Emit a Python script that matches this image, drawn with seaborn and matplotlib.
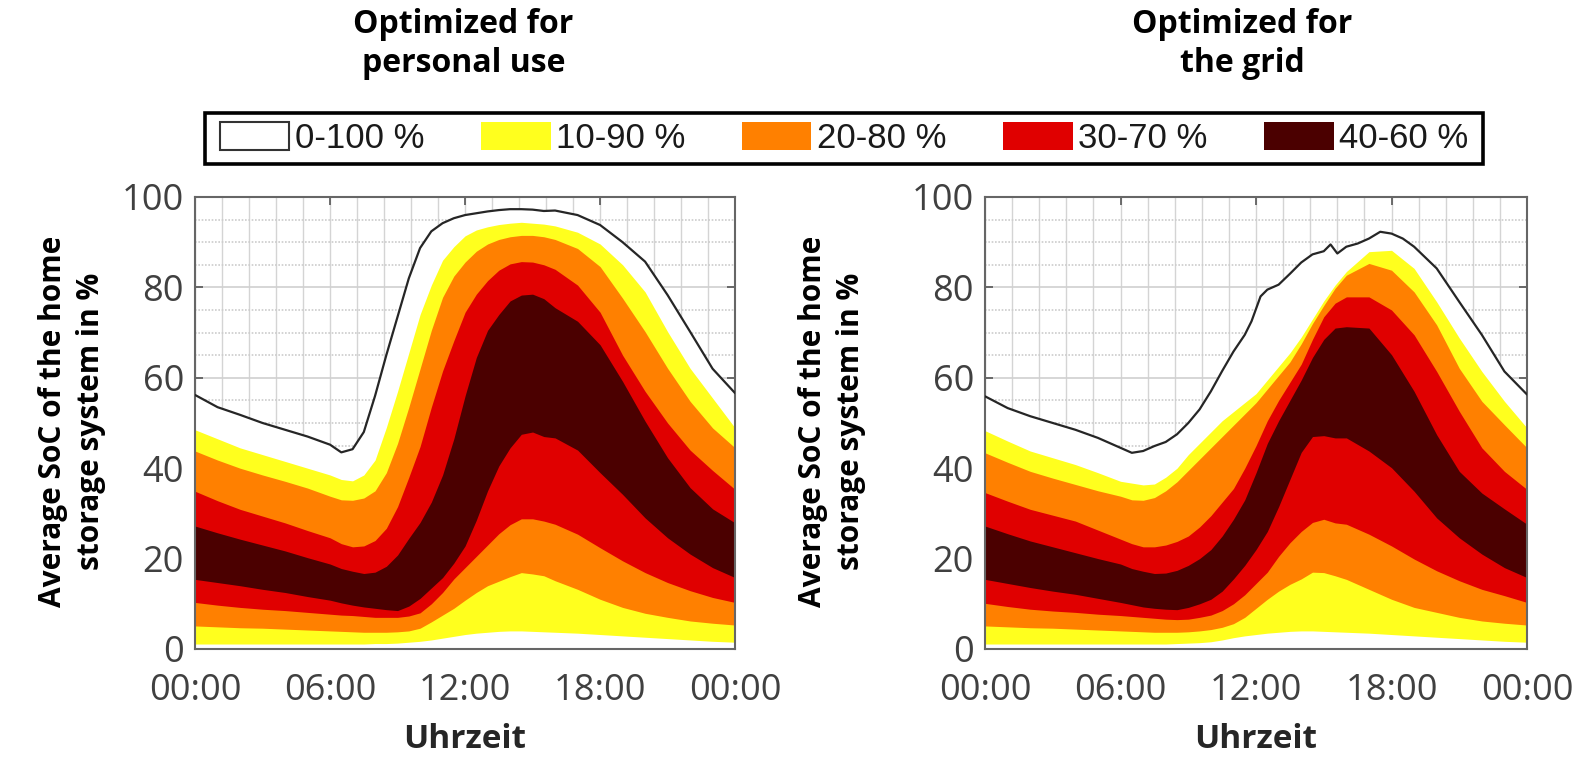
import matplotlib
matplotlib.use("Agg")
import matplotlib.pyplot as plt
import seaborn as sns
from matplotlib.patches import Patch, Rectangle
from matplotlib.ticker import MultipleLocator

sns.set_theme(style="white")
plt.rcParams["font.family"] = ["Open Sans", "DejaVu Sans"]

# time of day in hours, shared by the percentile bands
HOURS = [0, 1, 2, 3, 4, 5, 6, 6.5, 7, 7.5, 8, 8.5, 9, 9.5, 10, 10.5, 11, 11.5,
         12, 12.5, 13, 13.5, 14, 14.5, 15, 15.5, 16, 17, 18, 19, 20, 21, 22, 23, 24]

# --- optimized for personal use ---
own_max_hours = HOURS
own_p100 = [56.2, 53.5, 51.8, 50.0, 48.5, 47.0, 45.2, 43.5, 44.2, 48.0, 56.0, 65.0, 73.5, 82.0, 88.7, 92.4, 94.2, 95.3,
            96.0, 96.4, 96.8, 97.1, 97.3, 97.3, 97.2, 96.9, 97.0, 96.0, 93.8, 90.0, 85.7, 78.3, 70.2, 62.0, 56.6]
own_p90 = [48.5, 46.5, 44.5, 43.0, 41.5, 40.0, 38.5, 37.5, 37.2, 38.5, 41.8, 49.0, 57.0, 65.5, 74.0, 80.5, 86.0, 89.0,
           91.4, 92.7, 93.4, 93.9, 94.2, 94.4, 94.2, 94.0, 93.6, 92.2, 89.6, 85.0, 79.0, 70.2, 62.1, 55.5, 48.9]
own_p80 = [43.8, 41.8, 40.0, 38.5, 37.1, 35.6, 33.8, 33.0, 32.9, 33.4, 35.0, 39.0, 45.5, 53.5, 62.0, 70.5, 77.8, 82.5,
           85.6, 88.0, 89.6, 90.6, 91.2, 91.5, 91.5, 91.2, 90.6, 88.6, 84.6, 77.6, 70.2, 62.1, 54.8, 48.9, 44.5]
own_p70 = [34.9, 32.8, 30.9, 29.4, 27.9, 26.2, 24.6, 23.3, 22.6, 22.8, 24.0, 26.7, 31.5, 38.0, 44.8, 53.5, 61.5, 68.2,
           74.5, 78.5, 81.5, 83.8, 85.2, 85.7, 85.6, 85.0, 84.0, 80.5, 74.5, 65.0, 57.0, 50.0, 44.0, 39.5, 35.3]
own_p60 = [27.2, 25.7, 24.3, 23.0, 21.7, 20.2, 18.8, 17.8, 17.2, 16.7, 17.0, 18.3, 20.8, 24.5, 28.0, 32.5, 38.5, 46.5,
           56.0, 64.5, 70.5, 74.0, 77.0, 78.3, 78.5, 77.5, 75.5, 72.5, 67.3, 59.2, 50.4, 42.3, 35.7, 31.0, 27.9]
own_p40 = [15.4, 14.7, 14.0, 13.2, 12.5, 11.6, 10.8, 10.2, 9.7, 9.3, 9.0, 8.7, 8.5, 9.5, 11.2, 13.5, 15.8, 19.0,
           22.8, 28.5, 35.0, 40.5, 44.5, 47.5, 48.0, 47.0, 46.7, 44.0, 39.0, 34.2, 29.0, 24.6, 21.0, 18.0, 15.8]
own_p30 = [10.3, 9.7, 9.2, 8.8, 8.5, 8.1, 7.7, 7.5, 7.4, 7.2, 7.0, 7.0, 7.0, 7.3, 8.0, 10.0, 12.5, 15.5,
           18.0, 20.5, 23.0, 25.5, 27.5, 28.8, 28.8, 28.3, 27.6, 25.4, 22.4, 19.5, 16.9, 14.7, 12.9, 11.4, 10.3]
own_p20 = [5.1, 4.9, 4.7, 4.6, 4.4, 4.2, 4.0, 3.9, 3.8, 3.7, 3.7, 3.7, 3.8, 4.0, 4.6, 6.0, 7.5, 9.0,
           10.8, 12.5, 14.0, 15.0, 16.0, 16.9, 16.6, 16.2, 15.1, 13.2, 11.0, 9.2, 7.9, 7.0, 6.2, 5.7, 5.3]
own_p10 = [1.1, 1.1, 1.1, 1.1, 1.1, 1.1, 1.1, 1.1, 1.1, 1.1, 1.2, 1.2, 1.3, 1.5, 1.7, 2.0, 2.4, 2.8,
           3.2, 3.5, 3.7, 3.9, 4.0, 4.0, 3.9, 3.8, 3.7, 3.5, 3.2, 2.9, 2.6, 2.3, 2.0, 1.7, 1.5]

# --- optimized for the grid ---
grid_max_hours = [0, 1, 2, 3, 4, 5, 6, 6.5, 7, 7.5, 8, 8.5, 9, 9.5, 10, 10.5, 11, 11.5, 11.8, 12.2,
                  12.5, 13, 13.5, 14, 14.5, 15, 15.3, 15.6, 16, 16.5, 17, 17.5, 18, 18.5, 19, 20, 21, 22, 23, 24]
grid_p100 = [55.9, 53.3, 51.5, 50.0, 48.5, 46.7, 44.5, 43.4, 43.8, 44.9, 45.8, 47.5, 50.0, 53.0, 57.0, 61.5, 65.8, 69.5, 72.5, 78.0,
             79.5, 80.6, 83.0, 85.5, 87.3, 88.0, 89.5, 87.5, 89.0, 89.7, 90.8, 92.3, 91.9, 90.8, 89.0, 84.2, 76.8, 69.5, 61.4, 56.3]
grid_p90 = [48.3, 46.0, 43.8, 42.3, 40.8, 39.0, 37.1, 36.7, 36.3, 36.5, 38.0, 40.0, 43.0, 45.5, 48.0, 50.5, 52.5, 54.5,
            56.5, 59.5, 62.5, 65.5, 69.0, 73.0, 77.0, 80.5, 83.5, 87.9, 88.2, 84.2, 76.8, 68.8, 61.4, 54.8, 48.9]
grid_p80 = [43.4, 41.3, 39.3, 37.8, 36.4, 35.0, 33.8, 33.0, 32.9, 33.5, 35.0, 37.0, 39.5, 42.0, 44.5, 47.0, 49.5, 52.0,
            54.5, 57.5, 60.5, 63.5, 67.5, 72.0, 76.0, 79.8, 82.7, 85.3, 83.8, 79.0, 71.7, 62.1, 54.8, 49.6, 44.5]
grid_p70 = [34.6, 32.7, 30.9, 29.6, 28.3, 26.3, 24.3, 23.3, 22.6, 22.6, 23.0, 23.8, 25.0, 27.0, 29.5, 32.5, 35.5, 40.0,
            45.0, 50.5, 55.0, 59.0, 63.0, 68.5, 73.5, 76.5, 77.9, 77.9, 75.0, 69.5, 61.4, 52.6, 44.5, 39.3, 35.3]
grid_p60 = [27.2, 25.5, 23.9, 22.6, 21.3, 20.0, 18.8, 17.8, 17.2, 16.7, 16.8, 17.4, 18.5, 20.0, 22.0, 25.0, 28.7, 33.0,
            39.0, 45.5, 50.5, 55.0, 59.5, 64.5, 68.5, 71.0, 71.3, 71.0, 65.1, 57.0, 47.4, 39.3, 34.5, 31.0, 27.6]
grid_p40 = [15.4, 14.5, 13.6, 12.8, 12.1, 11.2, 10.3, 9.8, 9.3, 9.0, 8.8, 8.7, 9.2, 10.0, 11.0, 12.8, 15.5, 18.5,
            22.0, 26.0, 31.5, 37.5, 43.5, 47.0, 47.2, 46.7, 46.7, 43.8, 40.1, 34.9, 29.0, 24.6, 21.0, 18.0, 15.8]
grid_p30 = [10.1, 9.4, 8.8, 8.4, 8.1, 7.7, 7.4, 7.2, 7.0, 6.8, 6.6, 6.5, 6.6, 7.0, 7.5, 8.5, 10.0, 12.0,
            14.5, 17.0, 20.5, 23.5, 26.0, 28.0, 28.7, 27.9, 27.6, 25.4, 22.8, 19.9, 17.3, 15.1, 13.2, 11.8, 10.3]
grid_p20 = [5.1, 4.9, 4.7, 4.6, 4.4, 4.2, 4.0, 3.9, 3.8, 3.7, 3.7, 3.7, 3.8, 4.0, 4.3, 4.8, 5.6, 7.0,
            9.0, 11.0, 12.8, 14.3, 15.5, 17.0, 16.9, 16.2, 15.4, 13.2, 11.0, 9.2, 8.1, 7.0, 6.2, 5.7, 5.3]
grid_p10 = [1.1, 1.1, 1.1, 1.1, 1.1, 1.1, 1.1, 1.1, 1.1, 1.1, 1.1, 1.2, 1.3, 1.4, 1.6, 2.0, 2.5, 2.9,
            3.2, 3.5, 3.7, 3.9, 4.0, 4.0, 3.9, 3.8, 3.7, 3.5, 3.2, 2.9, 2.6, 2.3, 2.0, 1.7, 1.5]

PANEL_TITLES = ["Optimized for\npersonal use", "Optimized for\nthe grid"]
BAND_LABELS = ["0-100 %", "10-90 %", "20-80 %", "30-70 %", "40-60 %"]
BAND_COLORS = ["#ffffff", "#ffff1e", "#ff8000", "#e00000", "#4b0000"]
X_TICKS = [0, 6, 12, 18, 24]
X_TICK_LABELS = ["00:00", "06:00", "12:00", "18:00", "00:00"]
Y_TICKS = [0, 20, 40, 60, 80, 100]
Y_LABEL = "Average SoC of the home\nstorage system in %"

panels = [
    (own_max_hours, own_p100, [(own_p10, own_p90), (own_p20, own_p80), (own_p30, own_p70), (own_p40, own_p60)]),
    (grid_max_hours, grid_p100, [(grid_p10, grid_p90), (grid_p20, grid_p80), (grid_p30, grid_p70), (grid_p40, grid_p60)]),
]

W, H = 1587, 762
fig = plt.figure(figsize=(W / 100, H / 100), dpi=100)
ax_pos = [[0.1229, 0.1483, 0.3403, 0.5932], [0.6207, 0.1483, 0.3415, 0.5932]]
title_x = [0.292, 0.783]
ylabel_x = [0.0455, 0.5245]

for i, (max_hours, p100, bands) in enumerate(panels):
    ax = fig.add_axes(ax_pos[i])
    ax.set_axisbelow(True)
    ax.fill_between(max_hours, 0, p100, color=BAND_COLORS[0], lw=0, zorder=1)
    for (lo, hi), color in zip(bands, BAND_COLORS[1:]):
        ax.fill_between(HOURS, lo, hi, color=color, lw=0, zorder=2)
    sns.lineplot(x=max_hours, y=p100, ax=ax, color="#262626", lw=1.6, zorder=3)

    ax.set_xlim(0, 24)
    ax.set_ylim(0, 100)
    ax.set_xticks(X_TICKS)
    ax.set_xticklabels(X_TICK_LABELS)
    ax.set_yticks(Y_TICKS)
    ax.xaxis.set_minor_locator(MultipleLocator(1.2))
    ax.yaxis.set_minor_locator(MultipleLocator(5))
    ax.xaxis.grid(True, which="both", color="#d4d4d4", lw=1.0)
    ax.yaxis.grid(True, which="major", color="#d0d0d0", lw=1.2)
    ax.yaxis.grid(True, which="minor", color="#cccccc", lw=1.2, linestyle=(0, (1, 1)))
    ax.tick_params(which="major", direction="in", length=6, width=1.2, color="#555555",
                   top=True, right=True, bottom=True, left=True,
                   labelsize=26, labelcolor="#404040")
    ax.tick_params(axis="x", pad=17)
    ax.tick_params(axis="y", pad=8)
    ax.tick_params(which="minor", length=0)
    for sp in ax.spines.values():
        sp.set_color("#666666")
        sp.set_linewidth(1.5)
    ax.set_xlabel("")
    ax.set_ylabel("")

    cx = ax_pos[i][0] + ax_pos[i][2] / 2
    fig.text(cx, 0.03, "Uhrzeit", ha="center", va="center", fontsize=24,
             fontweight="bold", color="#262626")
    fig.text(title_x[i], 0.99, PANEL_TITLES[i], ha="center", va="top", fontsize=23,
             fontweight="bold", color="black", linespacing=1.25)
    fig.text(ylabel_x[i], 0.447, Y_LABEL, ha="center", va="center", rotation=90,
             fontsize=21.5, fontweight="bold", color="black", linespacing=1.35,
             multialignment="center")

# legend box drawn as its own frame, entries spread evenly inside it
fig.add_artist(Rectangle((205 / W, 1 - 164 / H), 1278 / W, 51 / H, transform=fig.transFigure,
                         fill=False, edgecolor="black", lw=2.6))
handles = [Patch(facecolor=BAND_COLORS[0], edgecolor="#333333", lw=1.5)]
handles += [Patch(facecolor=c, edgecolor=c, lw=0) for c in BAND_COLORS[1:]]
leg = fig.legend(handles, BAND_LABELS, loc="center", ncol=5, mode="expand",
                 bbox_to_anchor=(220 / W, 1 - 164 / H, 1248 / W, 51 / H),
                 frameon=False,
                 prop={"family": ["Liberation Sans Narrow", "Liberation Sans"], "size": 25},
                 handlelength=2.0, handleheight=0.86, handletextpad=0.15,
                 borderpad=0, borderaxespad=0)
for t in leg.get_texts():
    t.set_color("#1a1a1a")

fig.savefig("out.png", dpi=100)
